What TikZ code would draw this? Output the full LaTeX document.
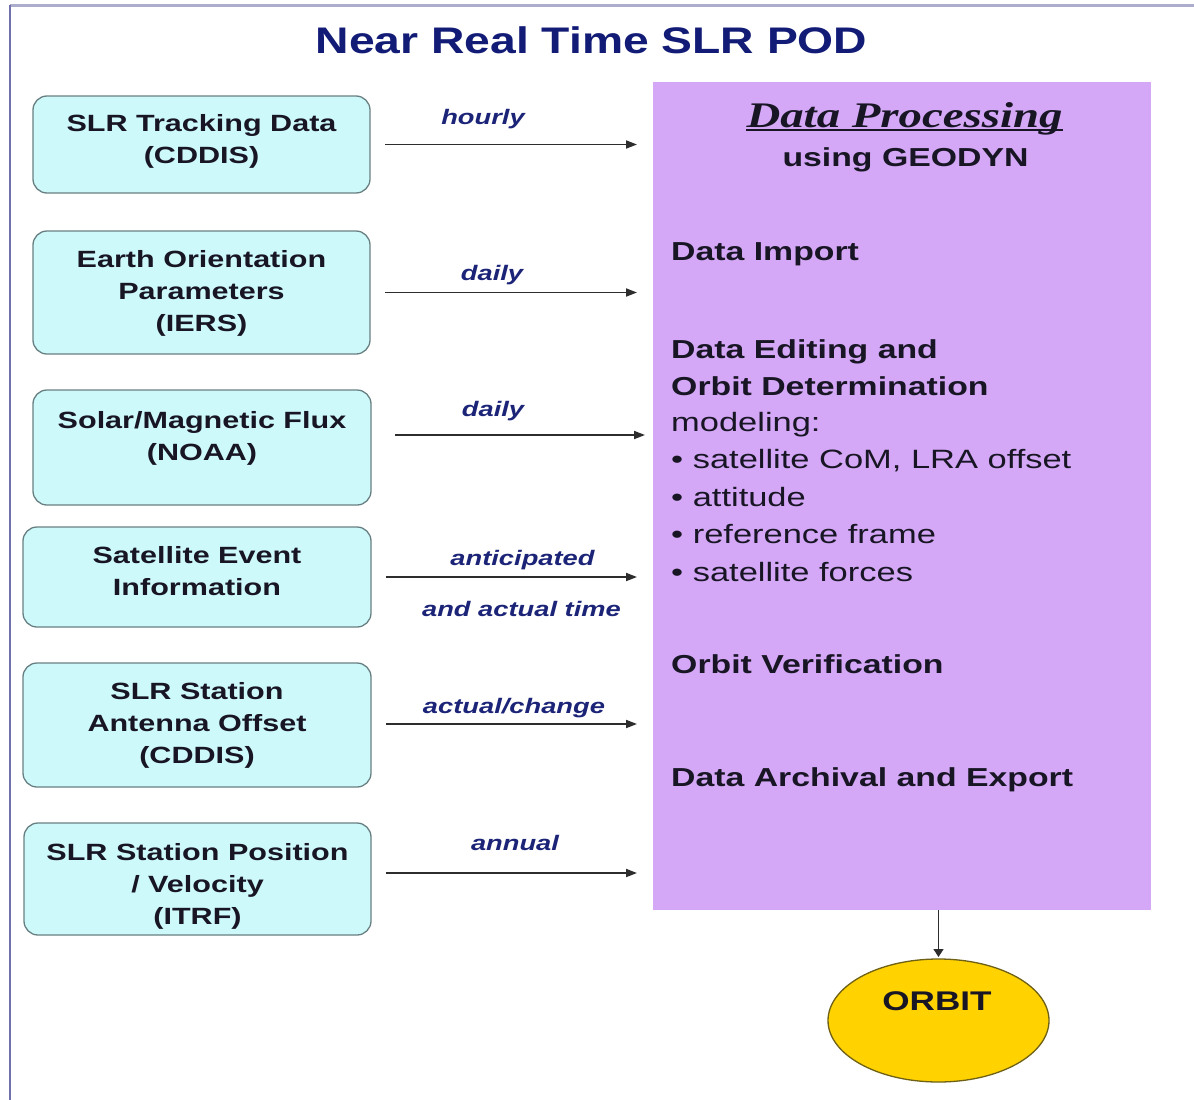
\documentclass[tikz,border=0pt]{standalone}
\usepackage{graphicx}
\usepackage{fontspec}
\usetikzlibrary{arrows.meta,shapes.geometric}
\newfontfamily\arialf{Liberation Sans}
\newfontfamily\timesf{Liberation Serif}
\newcommand\xs[1]{\scalebox{1.3}[1]{#1}}
\newcommand\xt[1]{\scalebox{1.25}[1]{#1}}
\definecolor{navy}{RGB}{18,28,118}
\definecolor{lblue}{RGB}{28,36,120}
\definecolor{boxfill}{RGB}{206,249,251}
\definecolor{boxedge}{RGB}{105,128,130}
\definecolor{purp}{RGB}{212,168,246}
\definecolor{gold}{RGB}{255,210,0}
\definecolor{goldedge}{RGB}{110,96,20}
\definecolor{txtdark}{RGB}{24,22,36}
\definecolor{arrgray}{RGB}{45,45,45}
\definecolor{frametop}{RGB}{172,172,205}
\definecolor{frameleft}{RGB}{112,112,172}
\tikzset{
  inbox/.style={draw=boxedge, fill=boxfill, rounded corners=14pt, line width=1.3pt, inner sep=0pt, outer sep=0pt},
  boxtxt/.style={inner sep=0pt, text=txtdark, font=\arialf\bfseries\fontsize{23.5}{32}\selectfont},
  lbl/.style={inner sep=0pt, anchor=base, text=lblue, font=\arialf\bfseries\itshape\fontsize{21}{25}\selectfont},
  ptxt/.style={inner sep=0pt, anchor=base west, text=txtdark, font=\arialf\bfseries\fontsize{26}{30}\selectfont},
  preg/.style={inner sep=0pt, anchor=base west, text=txtdark, font=\arialf\fontsize{26.5}{30}\selectfont},
  arr/.style={draw=arrgray, line width=1.8pt, -{Triangle[length=11pt,width=8pt]}},
}
\begin{document}
\begin{tikzpicture}[x=1pt,y=-1pt]
\useasboundingbox (0,0) rectangle (1194,1100);
\fill[white] (0,0) rectangle (1194,1100);
% frame
\draw[frametop, line width=3pt] (10,5.5) -- (1194,5.5);
\draw[frameleft, line width=2.5pt] (10,5) -- (10,1100);
% title
\node[inner sep=0pt, anchor=base, text=navy, font=\arialf\bfseries\fontsize{37}{40}\selectfont] (title) at (591.5,53.3) {\xt{Near Real Time SLR POD}};
% processing box
\node[fill=purp, inner sep=0pt, outer sep=0pt, minimum width=498pt, minimum height=828pt] (proc) at (902,496) {};
% input boxes
\node[inbox, minimum width=337pt, minimum height=97pt] (b1) at (201.5,144.5) {};
\node[inbox, minimum width=337pt, minimum height=123pt] (b2) at (201.5,292.5) {};
\node[inbox, minimum width=338pt, minimum height=115pt] (b3) at (202,447.5) {};
\node[inbox, minimum width=348pt, minimum height=100pt] (b4) at (197,577) {};
\node[inbox, minimum width=348pt, minimum height=124pt] (b5) at (197,725) {};
\node[inbox, minimum width=347pt, minimum height=112pt] (b6) at (197.5,879) {};
\node[boxtxt] (t1) at (201.5,141) {\xs{\begin{tabular}{@{}c@{}}SLR Tracking Data\\(CDDIS)\end{tabular}}};
\node[boxtxt] (t2) at (201.5,293.5) {\xs{\begin{tabular}{@{}c@{}}Earth Orientation\\Parameters\\(IERS)\end{tabular}}};
\node[boxtxt] (t3) at (202,438) {\xs{\begin{tabular}{@{}c@{}}Solar/Magnetic Flux\\(NOAA)\end{tabular}}};
\node[boxtxt] (t4) at (197,573.5) {\xs{\begin{tabular}{@{}c@{}}Satellite Event\\Information\end{tabular}}};
\node[boxtxt] (t5) at (197,725.5) {\xs{\begin{tabular}{@{}c@{}}SLR Station\\Antenna Offset\\(CDDIS)\end{tabular}}};
\node[boxtxt] (t6) at (197.5,886) {\xs{\begin{tabular}{@{}c@{}}SLR Station Position\\/ Velocity\\(ITRF)\end{tabular}}};
% arrow levels
\coordinate (y1) at (0,144.5);
\coordinate (y2) at (0,292.5);
\coordinate (y3) at (0,435);
\coordinate (y4) at (0,577);
\coordinate (y5) at (0,724);
\coordinate (y6) at (0,873);
\draw[arr, shorten <=15pt, shorten >=16pt] (b1.east |- y1) -- (proc.west |- y1);
\draw[arr, shorten <=15pt, shorten >=16pt] (b2.east |- y2) -- (proc.west |- y2);
\draw[arr, shorten <=24pt, shorten >=8pt] (b3.east |- y3) -- (proc.west |- y3);
\draw[arr, shorten <=15pt, shorten >=16pt] (b4.east |- y4) -- (proc.west |- y4);
\draw[arr, shorten <=15pt, shorten >=16pt] (b5.east |- y5) -- (proc.west |- y5);
\draw[arr, shorten <=15pt, shorten >=16pt] (b6.east |- y6) -- (proc.west |- y6);
% arrow labels
\node[lbl] (l1) at (483,124) {\xs{hourly}};
\node[lbl] (l2) at (492,280) {\xs{daily}};
\node[lbl] (l3) at (493,416.5) {\xs{daily}};
\node[lbl] (l4a) at (522.5,565) {\xs{anticipated}};
\node[lbl] (l4b) at (521.5,616.5) {\xs{and actual time}};
\node[lbl] (l5) at (514,713) {\xs{actual/change}};
\node[lbl] (l6) at (515,850) {\xs{annual}};
% processing text
\node[inner sep=0pt, anchor=base, text=txtdark, font=\timesf\bfseries\itshape\fontsize{36}{40}\selectfont] (dp) at (904.5,127.3) {\xs{Data Processing}};
\draw[txtdark, line width=2.2pt] ([yshift=-3pt]dp.base west) -- ([yshift=-3pt]dp.base east);
\node[inner sep=0pt, anchor=base, text=txtdark, font=\arialf\bfseries\fontsize{26}{30}\selectfont] (geo) at (905.5,166.7) {\xs{using GEODYN}};
\node[ptxt] (p1) at (671,260.5) {\xs{Data Import}};
\node[ptxt] (p2) at (671,358) {\xs{Data Editing and}};
\node[ptxt] (p3) at (671,395) {\xs{Orbit Determination}};
\node[preg] (p4) at (671,431.5) {\xs{modeling:}};
\node[preg] (p5) at (671,468.5) {\xs{• satellite CoM, LRA offset}};
\node[preg] (p6) at (671,506) {\xs{• attitude}};
\node[preg] (p7) at (671,543.5) {\xs{• reference frame}};
\node[preg] (p8) at (671,581) {\xs{• satellite forces}};
\node[ptxt] (p9) at (671,673) {\xs{Orbit Verification}};
\node[ptxt] (p10) at (671,786.5) {\xs{Data Archival and Export}};
% orbit
\node[ellipse, draw=goldedge, fill=gold, line width=1.3pt, inner sep=0pt, outer sep=0pt, minimum width=221pt, minimum height=123pt] (orbit) at (938.5,1020.5) {};
\node[inner sep=0pt, anchor=base, text=txtdark, font=\arialf\bfseries\fontsize{27}{30}\selectfont] (ot) at (937,1010) {\xs{ORBIT}};
\draw[arr, line width=1.4pt, -{Triangle[length=8pt,width=10pt]}, shorten >=2pt] (proc.south -| orbit.north) -- (orbit.north);
\end{tikzpicture}
\end{document}
